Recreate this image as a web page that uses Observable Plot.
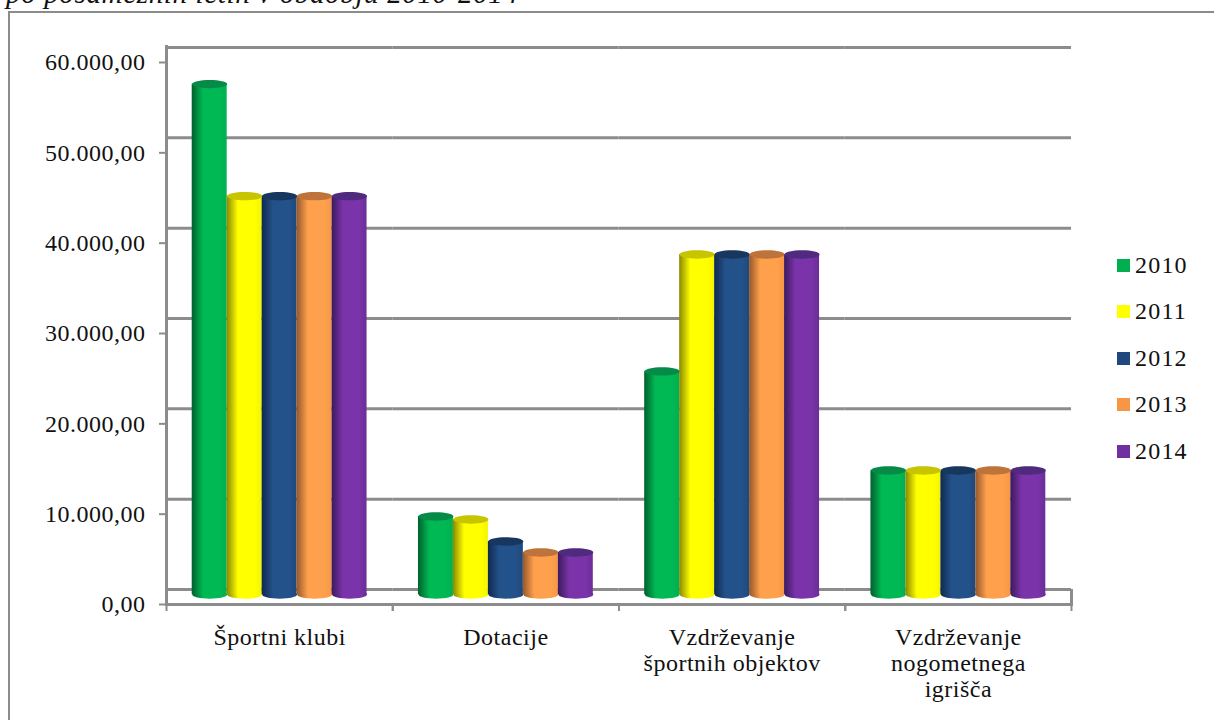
<!DOCTYPE html>
<html><head><meta charset="utf-8">
<script src="https://cdn.jsdelivr.net/npm/d3@7"></script>
<script src="https://cdn.jsdelivr.net/npm/@observablehq/plot@0.6"></script>
<style>
html,body{margin:0;padding:0;background:#fff;overflow:hidden;width:1214px;height:720px}
#wrap{position:relative;width:1214px;height:720px;font-family:"Liberation Serif",serif;color:#111}
#title{position:absolute;left:6px;top:-23px;font:italic 29px "Liberation Serif",serif;white-space:nowrap;letter-spacing:.65px}
#border{position:absolute;left:8px;top:11px;right:-4px;bottom:-4px;border:2px solid #8c8c8c}
#legend{position:absolute;left:1117px;top:242px;font-size:24px;letter-spacing:1.2px}
#legend div{height:46.5px;display:flex;align-items:center}
#legend i{display:block;width:13px;height:13px;margin-right:5px}
svg{position:absolute;left:0;top:0;background:transparent!important}
</style></head><body>
<div id="wrap"><div id="border"></div><div id="title">po posameznih letih v obdobju 2010-2014</div><div id="chart"></div><div id="legend"></div></div>
<script>
const categories=["Športni klubi","Dotacije","Vzdrževanje\nšportnih objektov","Vzdrževanje\nnogometnega\nigrišča"];
const years=["2010","2011","2012","2013","2014"];
const v2010=[56500,8640,24700,13730];
const v2011=[44100,8300,37640,13730];
const v2012=[44100,5870,37640,13730];
const v2013=[44100,4650,37640,13730];
const v2014=[44100,4650,37640,13730];
const yTicks=[0,10000,20000,30000,40000,50000,60000];
const swatch=["#00b050","#ffff00","#1f497d","#f79646","#7030a0"];
const capColor=["#068a47","#c9c400","#17375e","#bd7339","#4f2a7e"];
const shade=[["#00602c","#00b854","#00b050"],["#8a8800","#ffff00","#f4f400"],["#10294d","#23518a","#1f497d"],["#96572b","#ffa04c","#f79646"],["#3a1a5c","#7a33a8","#6a2d98"]];

const series=[v2010,v2011,v2012,v2013,v2014];
const rows=years.flatMap((year,i)=>categories.map((cat,j)=>({cat,year,value:series[i][j],idx:i})));
const fmt=d3.formatLocale({decimal:",",thousands:".",grouping:[3]}).format(",.2f");
const ellipse={draw(c,size){const rx=Math.sqrt(size/Math.PI),ry=rx*0.24,k=0.5523;
  c.moveTo(-rx,0);c.bezierCurveTo(-rx,-ry*k,-rx*k,-ry,0,-ry);c.bezierCurveTo(rx*k,-ry,rx,-ry*k,rx,0);
  c.bezierCurveTo(rx,ry*k,rx*k,ry,0,ry);c.bezierCurveTo(-rx*k,ry,-rx,ry*k,-rx,0);c.closePath();}};
const grey="#8c8c8c", lift=-10, wall=-15;
const defs=()=>{const ns="http://www.w3.org/2000/svg";const d=document.createElementNS(ns,"defs");
  years.forEach((y,i)=>{const g=document.createElementNS(ns,"linearGradient");g.setAttribute("id","g"+y);
    [[0,0],[.32,1],[.8,1],[1,2]].forEach(([o,s])=>{const st=document.createElementNS(ns,"stop");st.setAttribute("offset",o);st.setAttribute("stop-color",shade[i][s]);g.appendChild(st);});
    d.appendChild(g);});return d;};
const grad=d=>`url(#g${d.year})`;
const chart=Plot.plot({
  width:1214,height:720,marginLeft:166,marginRight:143,marginTop:46,marginBottom:116,
  style:{fontFamily:"Liberation Serif",fontSize:"24px",letterSpacing:"0.5px",color:"#111",background:"transparent"},
  fx:{domain:categories,padding:0,label:null,axis:null,round:false},
  x:{domain:years,paddingInner:0,paddingOuter:0.735,axis:null,round:false},
  y:{domain:[0,61771],axis:null},
  marks:[
    defs,
    Plot.ruleY(yTicks,{y:d=>d,dy:wall,stroke:grey,strokeWidth:3}),
    Plot.frame({anchor:"left",stroke:grey,strokeWidth:3,facet:"super"}),
    Plot.frame({anchor:"bottom",stroke:grey,strokeWidth:3,facet:"super"}),
    Plot.axisY({ticks:yTicks,tickFormat:fmt,tickSize:7,stroke:grey,strokeWidth:2,tickPadding:14,label:null}),
    Plot.axisFx({anchor:"bottom",tickSize:7,tickFormat:()=>"",dx:-113.1,stroke:grey,strokeWidth:2,label:null}),
    Plot.axisFx({anchor:"bottom",tickSize:7,tickFormat:()=>"",dx:113.1,stroke:grey,strokeWidth:2,label:null}),
    Plot.axisFx({anchor:"bottom",ticks:[categories[3]],tickSize:16,tickFormat:()=>"",dx:113.1,dy:wall,stroke:grey,strokeWidth:3,label:null}),
    Plot.axisFx({anchor:"bottom",tickSize:0,tickPadding:22,lineHeight:1.083,label:null}),
    Plot.dot(rows,{fx:"cat",x:"year",y:()=>0,dy:lift,r:17.5,symbol:ellipse,fill:grad,stroke:"none"}),
    Plot.barY(rows,{fx:"cat",x:"year",y:"value",dy:lift,fill:grad}),
    Plot.dot(rows,{fx:"cat",x:"year",y:"value",dy:lift,r:17.5,symbol:ellipse,fill:d=>capColor[d.idx],stroke:"none"})
  ]
});
document.getElementById("chart").appendChild(chart);
const lg=document.getElementById("legend");
years.forEach((y,i)=>{const r=document.createElement("div");const s=document.createElement("i");s.style.background=swatch[i];r.appendChild(s);r.appendChild(document.createTextNode(y));lg.appendChild(r);});
</script></body></html>
